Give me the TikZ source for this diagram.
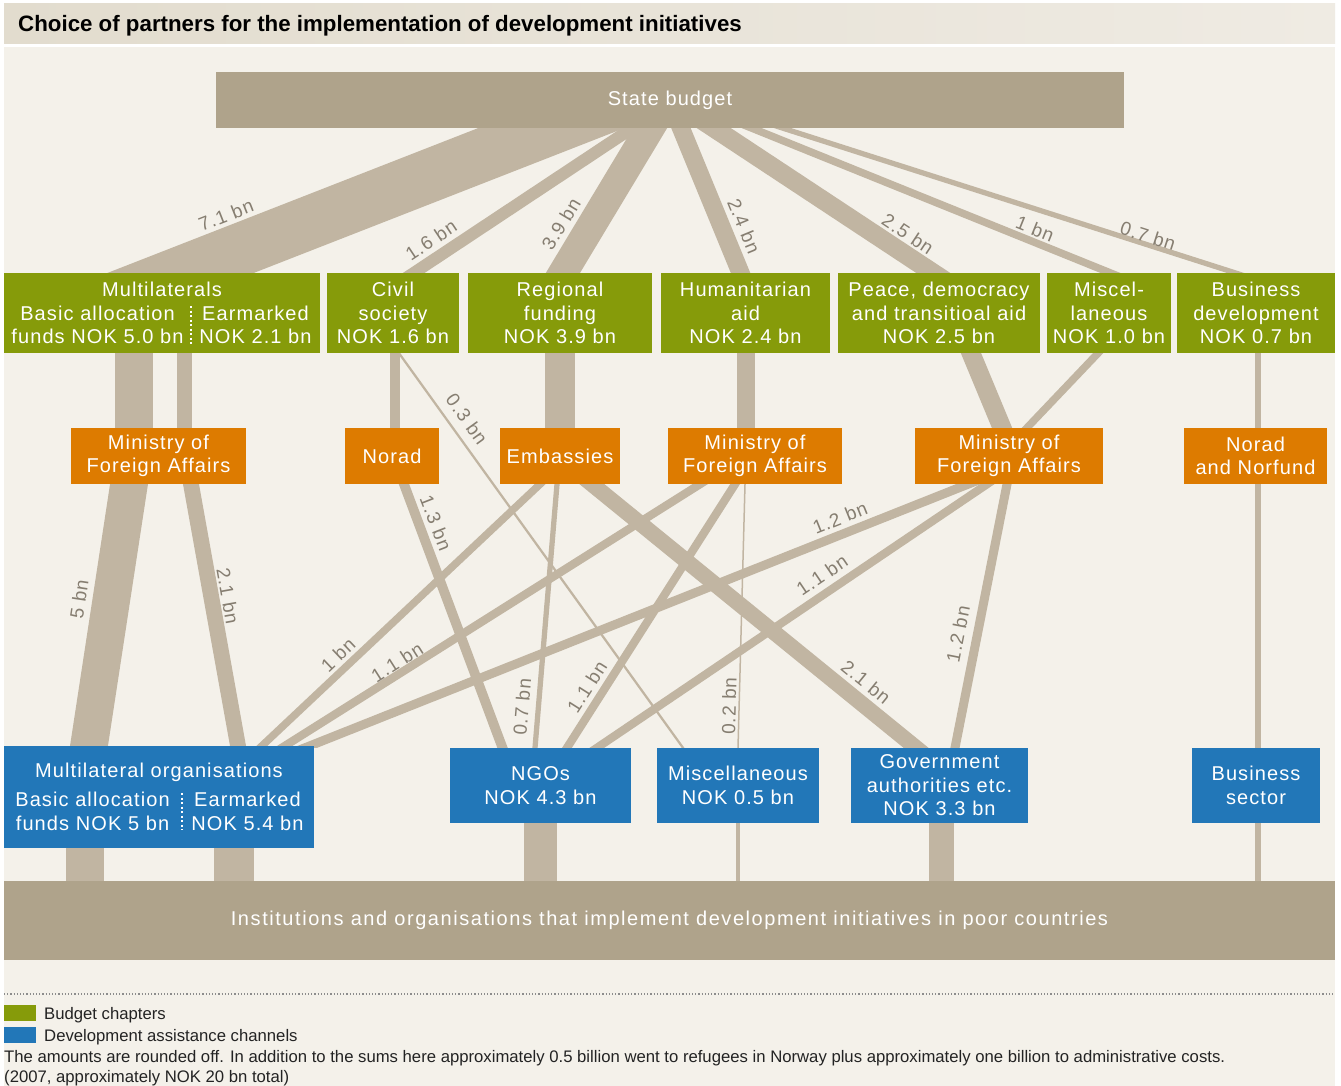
\documentclass[tikz,border=0pt]{standalone}
\usepackage{fontspec}
\setmainfont{Liberation Sans}
\newfontfamily\boxfont{Liberation Sans}[LetterSpace=5.5]
\newfontfamily\bandfont{Liberation Sans}[LetterSpace=7.8]
\usetikzlibrary{backgrounds}

\newlength{\du}
\setlength{\du}{1\unitlength}

\definecolor{papercream}{RGB}{244,241,234}
\definecolor{titleleft}{RGB}{226,220,206}
\definecolor{titleright}{RGB}{239,235,227}
\definecolor{sumtan}{RGB}{175,163,139}
\definecolor{flowtan}{RGB}{193,181,162}
\definecolor{chaptergreen}{RGB}{134,155,10}
\definecolor{partnerorange}{RGB}{221,123,0}
\definecolor{channelblue}{RGB}{34,119,184}
\definecolor{amountgrey}{RGB}{134,126,113}
\definecolor{notegrey}{RGB}{35,35,35}
\definecolor{rulegrey}{RGB}{140,140,140}

\tikzset{
  box/.style={inner sep=0pt, align=center, text=white, font=\boxfont\fontsize{20}{23.5}\selectfont},
  sumbox/.style={box, fill=sumtan},
  chapter/.style={box, fill=chaptergreen, minimum height=80\du},
  partner/.style={box, fill=partnerorange, minimum height=56\du},
  channel/.style={box, fill=channelblue, minimum height=75\du},
  swatch/.style={inner sep=0pt, minimum width=32\du, minimum height=16\du},
  flow/.code={\pgfmathsetlengthmacro\flowwidth{#1*7.5*\du}%
    \tikzset{draw=flowtan, line width=\flowwidth, shorten <=-80\du, shorten >=-80\du}},
  amount/.style={text=amountgrey, inner sep=0pt, font=\boxfont\fontsize{19}{19}\selectfont},
  note/.style={text=notegrey, inner sep=0pt, anchor=base west, font=\fontsize{16.7}{20}\selectfont},
  headline/.style={inner sep=0pt, anchor=base west, font=\bfseries\fontsize{22.3}{22}\selectfont},
  sepline/.style={draw=white, line width=2.5\du, dash pattern=on 2\du off 2.5\du},
  keyrule/.style={draw=rulegrey, line width=1.2\du, dash pattern=on 1.2\du off 2\du},
}

\begin{document}
\begin{tikzpicture}
\pgftransformxscale{1.000000}
\pgftransformyscale{-1.000000}
\useasboundingbox (0\du,0\du) rectangle (1341\du,1086\du);
\node[headline] (heading) at (18\du,32\du) {Choice of partners for the implementation of development initiatives};
\node[sumbox, minimum width=908\du, minimum height=56\du] (budget) at (670\du,100\du) {State budget};
% budget chapters
\node[chapter, minimum width=316\du] (multi) at (162\du,313\du) {Multilaterals\\\makebox[187\du]{Basic allocation}\makebox[129\du]{Earmarked}\\\makebox[187\du]{funds NOK 5.0 bn}\makebox[129\du]{NOK 2.1 bn}};
\node[chapter, minimum width=132\du] (civil) at (393\du,313\du) {Civil\\society\\NOK 1.6 bn};
\node[chapter, minimum width=184\du] (regional) at (560\du,313\du) {Regional\\funding\\NOK 3.9 bn};
\node[chapter, minimum width=169\du] (humanit) at (745.5\du,313\du) {Humanitarian\\aid\\NOK 2.4 bn};
\node[chapter, minimum width=202\du] (peace) at (939\du,313\du) {Peace, democracy\\and transitioal aid\\NOK 2.5 bn};
\node[chapter, minimum width=124\du] (miscb) at (1109\du,313\du) {Miscel-\\laneous\\NOK 1.0 bn};
\node[chapter, minimum width=158\du] (busdev) at (1256\du,313\du) {Business\\development\\NOK 0.7 bn};
% partners
\node[partner, minimum width=175\du] (mfaA) at (158.5\du,456\du) {Ministry of\\Foreign Affairs};
\node[partner, minimum width=94\du] (norad) at (392\du,456\du) {Norad};
\node[partner, minimum width=120\du] (emb) at (560\du,456\du) {Embassies};
\node[partner, minimum width=174\du] (mfaB) at (755\du,456\du) {Ministry of\\Foreign Affairs};
\node[partner, minimum width=188\du] (mfaC) at (1009\du,456\du) {Ministry of\\Foreign Affairs};
\node[partner, minimum width=143\du] (norfund) at (1255.5\du,456\du) {Norad\\and Norfund};
% channels
\node[channel, minimum width=310\du, minimum height=102\du] (multorg) at (159\du,797\du) {Multilateral organisations\\[5.5\du]\makebox[177\du]{Basic allocation}\makebox[133\du]{Earmarked}\\\makebox[177\du]{funds NOK 5 bn}\makebox[133\du]{NOK 5.4 bn}};
\node[channel, minimum width=181\du] (ngo) at (540.5\du,785.5\du) {NGOs\\NOK 4.3 bn};
\node[channel, minimum width=162\du] (miscc) at (738\du,785.5\du) {Miscellaneous\\NOK 0.5 bn};
\node[channel, minimum width=177\du] (gov) at (939.5\du,785.5\du) {Government\\authorities etc.\\NOK 3.3 bn};
\node[channel, minimum width=128\du] (bussec) at (1256\du,785.5\du) {Business\\sector};
\node[sumbox, minimum width=1331\du, minimum height=79\du, font=\bandfont\fontsize{20}{23.5}\selectfont] (inst) at (669.5\du,920.5\du) {Institutions and organisations that implement development initiatives in poor countries};
\draw[sepline] (191\du,306\du) -- (191\du,345\du);
\draw[sepline] (182\du,793\du) -- (182\du,830\du);
% amounts
\node[amount, rotate=21.4] (amtmulti) at (226\du,215\du) {7.1 bn};
\node[amount, rotate=33.6] (amtcivil) at (431\du,240\du) {1.6 bn};
\node[amount, rotate=59.0] (amtregional) at (561\du,224\du) {3.9 bn};
\node[amount, rotate=-67.7] (amthumanit) at (744\du,226\du) {2.4 bn};
\node[amount, rotate=-33.5] (amtpeace) at (908\du,234\du) {2.5 bn};
\node[amount, rotate=-22.0] (amtmiscb) at (1035\du,229\du) {1 bn};
\node[amount, rotate=-17.8] (amtbusdev) at (1148\du,236\du) {0.7 bn};
\node[amount, rotate=-54.3] (amtcivilmisc) at (467\du,419\du) {0.3 bn};
\node[amount, rotate=81.4] (amtbasic) at (79\du,599\du) {5 bn};
\node[amount, rotate=-79.9] (amtearmarked) at (228\du,596\du) {2.1 bn};
\node[amount, rotate=-68.7] (amtnoradngo) at (436\du,523\du) {1.3 bn};
\node[amount, rotate=43.5] (amtembmulti) at (338\du,655\du) {1 bn};
\node[amount, rotate=32.5] (amtmfabmulti) at (397\du,662\du) {1.1 bn};
\node[amount, rotate=85.2] (amtembngo) at (522\du,707\du) {0.7 bn};
\node[amount, rotate=57.5] (amtmfabngo) at (587\du,687\du) {1.1 bn};
\node[amount, rotate=88.5] (amtmfabmisc) at (729\du,706\du) {0.2 bn};
\node[amount, rotate=21.9] (amtmfacmulti) at (840\du,518\du) {1.2 bn};
\node[amount, rotate=34.1] (amtmfacngo) at (822\du,575\du) {1.1 bn};
\node[amount, rotate=-39.2] (amtembgov) at (866\du,682\du) {2.1 bn};
\node[amount, rotate=78.9] (amtmfacgov) at (958\du,634\du) {1.2 bn};
% key and notes
\draw[keyrule] (4\du,994\du) -- (1335\du,994\du);
\node[swatch, fill=chaptergreen] (keychapter) at (20\du,1013\du) {};
\node[note] (keychaptertext) at (44\du,1019\du) {Budget chapters};
\node[swatch, fill=channelblue] (keychannel) at (20\du,1035\du) {};
\node[note] (keychanneltext) at (44\du,1041\du) {Development assistance channels};
\node[note] (roundoff) at (4\du,1062\du) {The amounts are rounded off. In addition to the sums here approximately 0.5 billion went to refugees in Norway plus approximately one billion to administrative costs.};
\node[note] (total) at (4\du,1082\du) {(2007, approximately NOK 20 bn total)};
\begin{pgfonlayer}{background}
\fill[white] (0\du,0\du) rectangle (1341\du,1086\du);
\fill[papercream] (4\du,47\du) rectangle (1335\du,1086\du);
\shade[left color=titleleft, right color=titleright] (4\du,4\du) rectangle (1335\du,44\du);
% state budget to chapters
\begin{scope}
\clip (budget.south -| inst.west) rectangle (multi.north -| inst.east);
\draw[flow=7.1] ([xshift=-119\du]budget.south) -- ([xshift=19\du]multi.north);
\draw[flow=1.6] ([xshift=-38\du]budget.south) -- ([xshift=21\du]civil.north);
\draw[flow=3.9] ([xshift=-20\du]budget.south) -- ([xshift=3\du]regional.north);
\draw[flow=2.4] ([xshift=11\du]budget.south) -- ([xshift=-5\du]humanit.north);
\draw[flow=2.5] ([xshift=44\du]budget.south) -- ([xshift=-6\du]peace.north);
\draw[flow=1.0] ([xshift=82\du]budget.south) -- ([xshift=1\du]miscb.north);
\draw[flow=0.7] ([xshift=113\du]budget.south) -- ([xshift=-21\du]busdev.north);
\end{scope}
% chapters to partners
\begin{scope}
\clip (multi.south -| inst.west) rectangle (mfaA.north -| inst.east);
\draw[flow=5.0] ([xshift=-28\du]multi.south) -- ([xshift=-28\du]multi.south |- mfaA.north);
\draw[flow=2.1] ([xshift=22.5\du]multi.south) -- ([xshift=22.5\du]multi.south |- mfaA.north);
\draw[flow=1.3] ([xshift=2\du]civil.south) -- ([xshift=2\du]civil.south |- norad.north);
\draw[flow=3.9] (regional.south) -- (regional.south |- emb.north);
\draw[flow=2.4] (humanit.south) -- (humanit.south |- mfaB.north);
\draw[flow=2.5] ([xshift=32\du]peace.south) -- ([xshift=-7\du]mfaC.north);
\draw[flow=1.0] ([xshift=-11\du]miscb.south) -- ([xshift=18\du]mfaC.north);
\draw[flow=0.7] ([xshift=2\du]busdev.south) -- ([xshift=2\du]busdev.south |- norfund.north);
\end{scope}
% civil society straight to miscellaneous
\begin{scope}
\clip (civil.south -| inst.west) rectangle (miscc.north -| inst.east);
\draw[flow=0.3] ([xshift=6\du]civil.south) -- ([xshift=-55\du]miscc.north);
\end{scope}
% partners to channels
\begin{scope}
\clip (mfaA.south -| inst.west) rectangle (ngo.north -| inst.east);
\draw[flow=5.0] ([xshift=-29.5\du]mfaA.south) -- ([xshift=-70\du]multorg.north);
\draw[flow=2.1] ([xshift=32.5\du]mfaA.south) -- ([xshift=79\du]multorg.north);
\draw[flow=1.3] ([xshift=12\du]norad.south) -- ([xshift=-38\du]ngo.north);
\draw[flow=1.0] ([xshift=-20\du]emb.south) -- ([xshift=103\du]multorg.north);
\draw[flow=0.7] ([xshift=-3\du]emb.south) -- ([xshift=-5.5\du]ngo.north);
\draw[flow=2.1] ([xshift=32\du]emb.south) -- ([xshift=-23.5\du]gov.north);
\draw[flow=1.1] ([xshift=-55\du]mfaB.south) -- ([xshift=126\du]multorg.north);
\draw[flow=1.1] ([xshift=-20\du]mfaB.south) -- ([xshift=26.5\du]ngo.north);
\draw[flow=0.2] ([xshift=-10\du]mfaB.south) -- (miscc.north);
\draw[flow=1.2] ([xshift=-41\du]mfaC.south) -- ([xshift=151\du]multorg.north);
\draw[flow=1.1] ([xshift=-22\du]mfaC.south) -- ([xshift=56.5\du]ngo.north);
\draw[flow=1.2] ([xshift=-2\du]mfaC.south) -- ([xshift=15.5\du]gov.north);
\draw[flow=0.7] ([xshift=2.5\du]norfund.south) -- ([xshift=2.5\du]norfund.south |- bussec.north);
\end{scope}
% channels to institutions
\begin{scope}
\clip (ngo.south -| inst.west) rectangle (inst.north -| inst.east);
\draw[flow=5.0] ([xshift=-74\du]multorg.south) -- ([xshift=-74\du]multorg.south |- inst.north);
\draw[flow=5.4] ([xshift=75\du]multorg.south) -- ([xshift=75\du]multorg.south |- inst.north);
\draw[flow=4.3] (ngo.south) -- (ngo.south |- inst.north);
\draw[flow=0.5] (miscc.south) -- (miscc.south |- inst.north);
\draw[flow=3.3] ([xshift=2\du]gov.south) -- ([xshift=2\du]gov.south |- inst.north);
\draw[flow=0.7] ([xshift=2\du]bussec.south) -- ([xshift=2\du]bussec.south |- inst.north);
\end{scope}
\end{pgfonlayer}
\end{tikzpicture}
\end{document}
